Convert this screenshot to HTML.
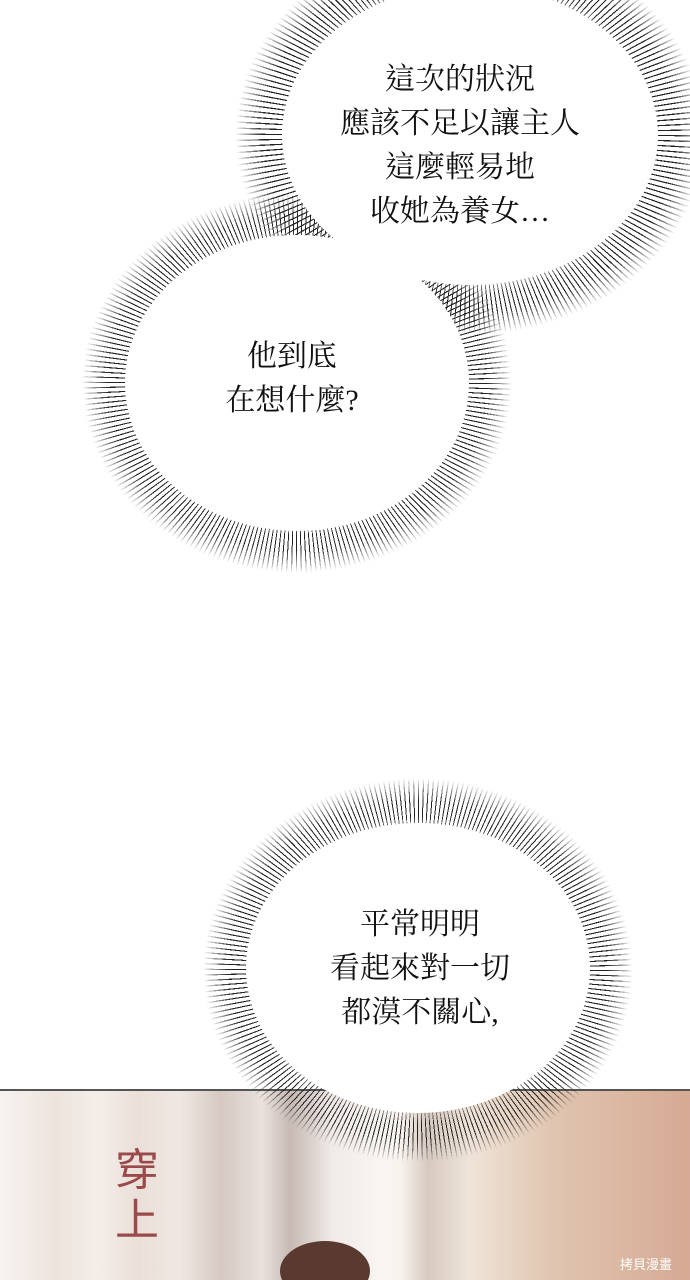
<!DOCTYPE html>
<html><head><meta charset="utf-8"><style>
html,body{margin:0;padding:0;overflow:hidden}
body{width:690px;height:1280px;position:relative;overflow:hidden;background:#fff;font-family:"Liberation Serif","Noto Serif CJK TC","Noto Serif CJK SC",serif}
.h{position:absolute;border-radius:50%;
 -webkit-mask:radial-gradient(closest-side,transparent 70%,#000 80%,#000 88%,transparent 100%);
 mask:radial-gradient(closest-side,transparent 70%,#000 80%,#000 88%,transparent 100%);
 background:repeating-conic-gradient(#222 0deg 0.35deg,transparent 0.35deg 1.5deg)}
.w{position:absolute;border-radius:50%;background:#fff}
.t{position:absolute;text-align:center;font-size:30px;line-height:44px;color:#111;font-weight:normal;transform:translateX(-50%);white-space:nowrap}
.img{position:absolute;left:0;top:1089px;width:690px;height:191px;border-top:2px solid #555;overflow:hidden;
 background:
 linear-gradient(90deg,rgba(255,255,255,.5) 0,rgba(255,255,255,0) 8%,rgba(255,255,255,.4) 14%,rgba(255,255,255,0) 20%,rgba(255,255,255,.3) 26%,rgba(120,100,95,.15) 32%,rgba(255,255,255,.3) 38%,rgba(120,100,95,.2) 42%,rgba(255,255,255,.5) 48%,rgba(255,255,255,.5) 58%,rgba(120,100,95,.2) 62%,rgba(255,255,255,.2) 68%,rgba(200,150,120,.2) 80%,rgba(190,120,100,.3) 100%),
 linear-gradient(90deg,#efe6e0 0%,#e8dcd5 30%,#d9cdc8 45%,#f1eae2 55%,#e8d6c5 75%,#e0bfa8 100%)}
</style></head><body>
<div class="img">
<div style="position:absolute;left:115px;top:55px;color:#9a4a4a;font-size:44px;font-family:'Liberation Sans','Noto Sans CJK TC',sans-serif;line-height:50px;width:60px">穿<br>上</div>
<div style="position:absolute;left:280px;top:150px;width:90px;height:60px;border-radius:50%;background:#5a3a30"></div>
<div style="position:absolute;left:620px;top:163px;font-size:13px;color:#fff;font-family:'Liberation Sans','Noto Sans CJK TC',sans-serif">拷貝漫畫</div>
</div>

<div class="h" style="left:235px;top:-65px;width:470px;height:400px"></div>
<div class="h" style="left:82px;top:193px;width:430px;height:380px"></div>
<div class="h" style="left:203px;top:778px;width:430px;height:384px"></div>
<div class="w" style="left:282px;top:-15px;width:376px;height:300px"></div>
<div class="w" style="left:125px;top:235px;width:344px;height:296px"></div>
<div class="w" style="left:246px;top:823px;width:344px;height:290px"></div>

<div class="t" style="left:460px;top:58px">這次的狀況<br>應該不足以讓主人<br>這麼輕易地<br>收她為養女…</div>
<div class="t" style="left:292px;top:335px">他到底<br>在想什麼?</div>
<div class="t" style="left:420px;top:903px">平常明明<br>看起來對一切<br>都漠不關心,</div>
</body></html>
